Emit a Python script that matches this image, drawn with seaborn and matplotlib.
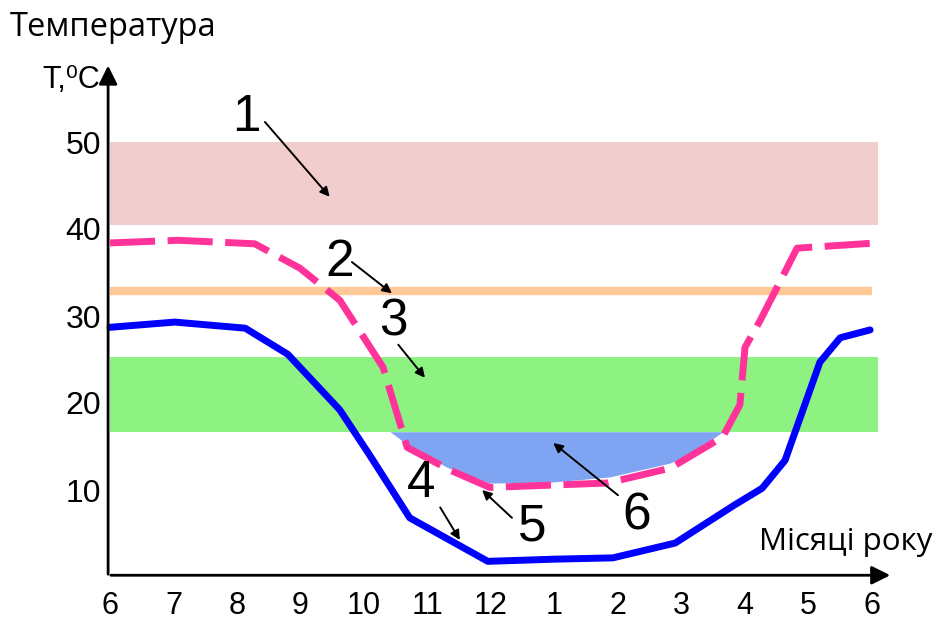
import numpy as np
import pandas as pd
import matplotlib
matplotlib.use("Agg")
import matplotlib.pyplot as plt
import seaborn as sns

## DATA
months = ["6", "7", "8", "9", "10", "11", "12", "1", "2", "3", "4", "5", "6"]
y_ticks = [10, 20, 30, 40, 50]

# curve 4 (blue, solid)
blue_x = [0, 1.02, 2.13, 2.8, 3.62, 4.09, 4.72, 5.95, 7.0, 7.92, 8.9, 9.84, 10.27, 10.63, 11.18, 11.5, 11.97]
blue_y = [28.7, 29.3, 28.6, 25.6, 19.2, 14.0, 6.8, 1.8, 2.05, 2.2, 3.9, 8.3, 10.2, 13.4, 24.7, 27.5, 28.4]

# curve 5 (pink, dashed)
pink_x = [0, 1.07, 2.28, 2.99, 3.62, 4.3, 4.61, 4.68, 5.35, 5.98, 7.83, 8.82, 9.65, 9.92, 10.0, 10.24, 10.82, 12.08]
pink_y = [38.4, 38.7, 38.3, 35.5, 31.8, 24.1, 16.6, 14.9, 12.3, 10.3, 10.8, 12.5, 16.1, 19.8, 26.4, 29.5, 37.8, 38.4]

# zone 6 (blue fill)
fill_x = [4.41, 4.65, 5.31, 5.98, 6.93, 7.87, 8.82, 9.24, 9.65]
fill_bottom = [16.7, 15.4, 12.6, 10.8, 10.9, 11.5, 13.1, 14.6, 16.7]
fill_top = 16.7

# zone 1, line 2, zone 3
band_x = [0, 12.1]
red_band = (40.5, 50)
orange_level = 32.9
green_band = (16.7, 25.3)

labels = ["1", "2", "3", "4", "5", "6"]
label_pos = [(2.14, 52.8), (3.62, 36.2), (4.46, 29.3), (4.9, 10.7), (6.65, 5.75), (8.3, 7.0)]
arrow_from = [(2.44, 52.3), (3.81, 36.2), (4.54, 26.7), (5.2, 8.0), (6.33, 6.8), (8.0, 9.4)]
arrow_to = [(3.46, 43.7), (4.44, 32.6), (4.96, 22.9), (5.51, 4.25), (5.86, 10.0), (6.98, 15.4)]

## PLOT
sns.set_theme(style="white")
plt.rcParams["font.family"] = ["Liberation Sans", "DejaVu Sans"]
plt.rcParams["text.color"] = "black"
plt.rcParams["xtick.color"] = "black"
plt.rcParams["ytick.color"] = "black"

fig = plt.figure(figsize=(9.36, 6.22), dpi=100)
ax = fig.add_axes([0, 0, 1, 1])
ax.set_xlim(-110 / 63.5, (936 - 110) / 63.5)
ax.set_ylim(-45 / 8.7, 577 / 8.7)

ax.fill_between(band_x, red_band[0], red_band[1], color="#F2CDCD", lw=0)
ax.fill_between(band_x, green_band[0], green_band[1], color="#8EF283", lw=0)
ax.plot([band_x[0], 12.0], [orange_level, orange_level], color="#FFC896", lw=6, solid_capstyle="butt")
ax.fill_between(fill_x, fill_bottom, fill_top, color="#7FA5F2", lw=0)

df_blue = pd.DataFrame({"x": blue_x, "y": blue_y})
df_pink = pd.DataFrame({"x": pink_x, "y": pink_y})
sns.lineplot(data=df_blue, x="x", y="y", ax=ax, color="#0000FF", lw=5, sort=False)
sns.lineplot(data=df_pink, x="x", y="y", ax=ax, color="#FF3399", lw=5,
             sort=False, linestyle=(0, (6.5, 1.8)))

# axes with arrows
for s in ax.spines.values():
    s.set_visible(False)
ax.spines["bottom"].set_position(("data", 0))
ax.spines["left"].set_position(("data", -0.03))
ax.annotate("", xy=(-0.03, 59.1), xytext=(-0.03, 0), arrowprops=dict(arrowstyle="-|>", lw=2, color="black", mutation_scale=28))
ax.annotate("", xy=(12.33, 0.2), xytext=(-0.03, 0.2), arrowprops=dict(arrowstyle="-|>", lw=2, color="black", mutation_scale=28))

ax.set_xticks(range(len(months)))
ax.set_xticklabels(months, fontsize=22)
ax.set_yticks(y_ticks)
ax.set_yticklabels([str(v) for v in y_ticks], fontsize=23)
ax.tick_params(axis="x", length=0, pad=10)
ax.tick_params(axis="y", length=0, pad=5)
ax.set_xlabel("")
ax.set_ylabel("")

for lab, pos, a0, a1 in zip(labels, label_pos, arrow_from, arrow_to):
    ax.text(pos[0], pos[1], lab, fontsize=37, ha="center", va="center")
    ax.annotate("", xy=a1, xytext=a0, arrowprops=dict(arrowstyle="-|>", lw=1.4, color="black", mutation_scale=14, shrinkA=0, shrinkB=0))

fig.text(10 / 936, 1 - 27 / 622, "Температура", fontsize=23.5, va="center", ha="left", family=["Open Sans", "DejaVu Sans"])
fig.text(100 / 936, 1 - 80 / 622, "T,⁰C", fontsize=22, va="center", ha="right")
fig.text(932 / 936, 1 - 542 / 622, "Місяці року", fontsize=22.5, va="center", ha="right", family=["Open Sans", "DejaVu Sans"])

plt.savefig("out.png", dpi=100)
